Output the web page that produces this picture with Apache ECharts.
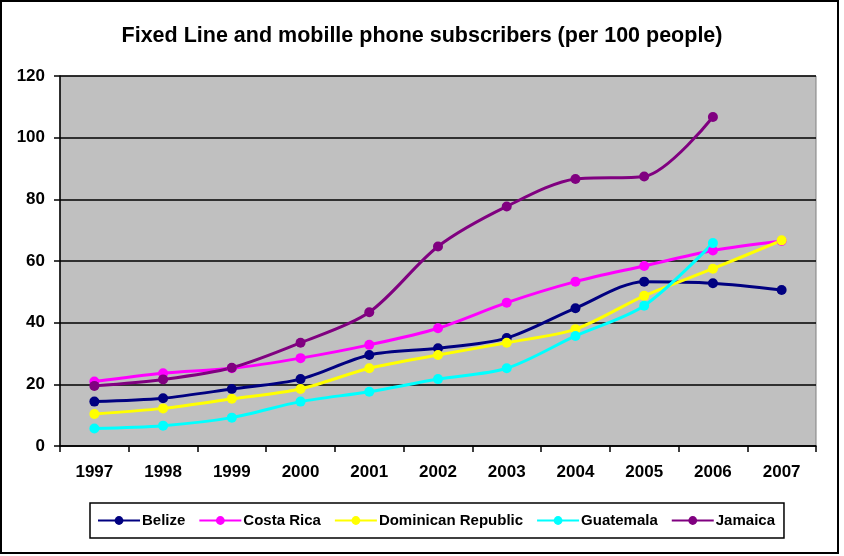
<!DOCTYPE html>
<html>
<head>
<meta charset="utf-8">
<script src="https://cdn.jsdelivr.net/npm/echarts@6/dist/echarts.min.js"></script>
<style>html,body{margin:0;padding:0;background:#fff}#c{width:844px;height:556px}</style>
</head>
<body>
<div id="c"></div>
<script>
var years = ['1997','1998','1999','2000','2001','2002','2003','2004','2005','2006','2007'];
var belize = [14.4, 15.5, 18.5, 21.7, 29.5, 31.7, 35.0, 44.7, 53.3, 52.8, 50.6];
var costaRica = [20.9, 23.6, 25.2, 28.5, 32.8, 38.2, 46.5, 53.3, 58.4, 63.4, 66.5];
var dominican = [10.4, 12.2, 15.3, 18.5, 25.2, 29.5, 33.5, 37.9, 48.7, 57.5, 66.7];
var guatemala = [5.7, 6.6, 9.2, 14.4, 17.6, 21.7, 25.2, 35.7, 45.5, 65.8, null];
var jamaica = [19.5, 21.6, 25.4, 33.5, 43.4, 64.7, 77.7, 86.6, 87.4, 106.7, null];

var FONT = '"Liberation Sans Narrow", "Arial Narrow", "Liberation Sans", Arial, sans-serif';
function ser(name, data, color) {
  return {
    name: name, type: 'line', data: data, smooth: 0.3,
    symbol: 'circle', symbolSize: 10, showSymbol: true,
    lineStyle: {color: color, width: 3},
    itemStyle: {color: color},
    connectNulls: false
  };
}
var chart = echarts.init(document.getElementById('c'), null, {renderer: 'canvas'});
chart.setOption({
  animation: false,
  backgroundColor: '#fff',
  title: {
    text: 'Fixed Line and mobille phone subscribers (per 100 people)',
    left: 'center', top: 20,
    textStyle: {fontFamily: FONT, fontWeight: 'bold', fontSize: 21.5, color: '#000'}
  },
  graphic: [{
    type: 'rect', silent: true, z: 100,
    shape: {x: 1, y: 1, width: 837, height: 552},
    style: {fill: 'none', stroke: '#000', lineWidth: 2}
  }],
  legend: {
    left: 90, top: 503,
    borderColor: '#000', borderWidth: 1.5,
    padding: [10, 9, 10, 7],
    itemGap: 13, itemWidth: 42, itemHeight: 11,
    textStyle: {fontFamily: FONT, fontWeight: 'bold', fontSize: 15, color: '#000', padding: [0, 0, 0, -3]},
    data: ['Belize','Costa Rica','Dominican Republic','Guatemala','Jamaica']
  },
  grid: {
    left: 60, right: 28, top: 76, bottom: 110,
    show: true, backgroundColor: '#C0C0C0', borderColor: '#808080', borderWidth: 1
  },
  xAxis: {
    type: 'category', data: years, boundaryGap: true,
    axisLine: {lineStyle: {color: '#000', width: 1.5}},
    axisTick: {show: true, length: 6, lineStyle: {color: '#000', width: 1.5}},
    axisLabel: {fontFamily: FONT, fontWeight: 'bold', fontSize: 17, color: '#000', margin: 18},
    splitLine: {show: false}
  },
  yAxis: {
    type: 'value', min: 0, max: 120, interval: 20,
    axisLine: {show: true, lineStyle: {color: '#000', width: 1.5}},
    axisTick: {show: true, length: 6, lineStyle: {color: '#000', width: 1.5}},
    axisLabel: {fontFamily: FONT, fontWeight: 'bold', fontSize: 17, color: '#000', margin: 15},
    splitLine: {show: true, lineStyle: {color: '#000', width: 1.5}}
  },
  series: [
    ser('Belize', belize, '#000080'),
    ser('Costa Rica', costaRica, '#FF00FF'),
    ser('Dominican Republic', dominican, '#FFFF00'),
    ser('Guatemala', guatemala, '#00FFFF'),
    ser('Jamaica', jamaica, '#800080')
  ]
});
</script>
</body>
</html>
